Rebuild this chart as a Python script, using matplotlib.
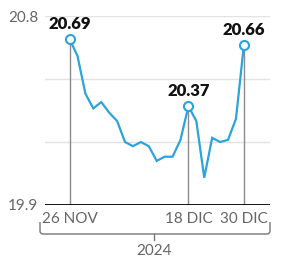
import matplotlib
matplotlib.use("Agg")
import matplotlib.pyplot as plt
from matplotlib.lines import Line2D
from matplotlib.path import Path
from matplotlib.patches import PathPatch

# Data (trading days 26 Nov - 30 Dec 2024)
values = [20.69, 20.61, 20.43, 20.36, 20.39, 20.34, 20.30, 20.20, 20.18, 20.20,
          20.18, 20.11, 20.13, 20.13, 20.21, 20.37, 20.30, 20.03, 20.22, 20.20,
          20.21, 20.31, 20.66]
highlight_idx = [0, 15, 22]
highlight_labels = ["20.69", "20.37", "20.66"]
tick_idx = [0, 15, 22]
tick_labels = ["26 NOV", "18 DIC", "30 DIC"]
year_label = "2024"
y_ticks = [19.9, 20.8]
y_grid = [20.2, 20.5, 20.8]

plt.rcParams['font.family'] = ['Lato', 'DejaVu Sans']

fig = plt.figure(figsize=(2.81, 2.62), dpi=100)
ax = fig.add_axes([45/281, 57/262, 225/281, 189/262])

blue = '#2ca3dc'
x = list(range(len(values)))

for g in y_grid:
    ax.axhline(g, color='#e3e3e3', lw=1, zorder=0)

for i in highlight_idx:
    ax.plot([i, i], [19.9, values[i]], color='#8a8a8a', lw=1, zorder=1)

ax.plot(x, values, color=blue, lw=1.6, zorder=2, solid_joinstyle='miter')
ax.plot([x[i] for i in highlight_idx], [values[i] for i in highlight_idx], 'o',
        ms=6.5, mfc='white', mec=blue, mew=1.5, zorder=3)

for i, lab in zip(highlight_idx, highlight_labels):
    ax.annotate(lab, (i, values[i]), xytext=(0, 11), textcoords='offset points',
                ha='center', va='center', fontsize=12, fontweight='heavy',
                color='#111111', annotation_clip=False)

ax.axhline(19.9, color='black', lw=2, zorder=4)

ax.set_xlim(-3.1, 25.3)
ax.set_ylim(19.9, 20.8)
ax.set_yticks(y_ticks)
ax.set_yticklabels([f"{v:.1f}" for v in y_ticks])
ax.set_xticks(tick_idx)
ax.set_xticklabels(tick_labels)
ax.tick_params(axis='both', length=0, colors='#666666', labelsize=11)
ax.tick_params(axis='y', pad=5)
ax.tick_params(axis='x', pad=5)
for s in ax.spines.values():
    s.set_visible(False)

# Year bracket in figure pixel coordinates
W, H = 281, 262
def fx(px):
    return px / W
def fy(py):
    return 1 - py / H

r = 3
verts = [(fx(40), fy(222)), (fx(40), fy(234 - r)), (fx(40), fy(234)), (fx(40 + r), fy(234)),
         (fx(270 - r), fy(234)), (fx(270), fy(234)), (fx(270), fy(234 - r)), (fx(270), fy(222))]
codes = [Path.MOVETO, Path.LINETO, Path.CURVE3, Path.CURVE3,
         Path.LINETO, Path.CURVE3, Path.CURVE3, Path.LINETO]
fig.add_artist(PathPatch(Path(verts, codes), fill=False, ec='#777777', lw=1,
                         transform=fig.transFigure))
fig.add_artist(Line2D([fx(154), fx(154)], [fy(234), fy(240)], color='#777777', lw=1,
                      transform=fig.transFigure))
fig.text(fx(154), fy(251), year_label, ha='center', va='center', fontsize=11, color='#666666')

fig.savefig('out.png', dpi=100)
